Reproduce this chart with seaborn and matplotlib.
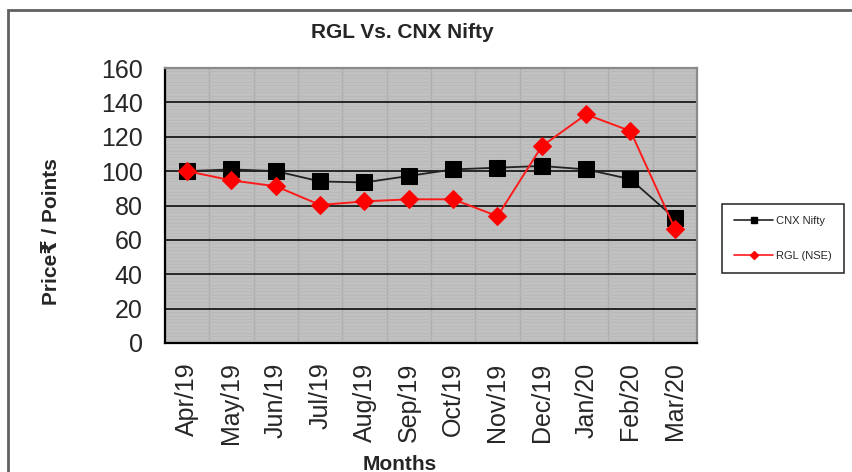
import numpy as np
import pandas as pd
import matplotlib
matplotlib.use("Agg")
import matplotlib.pyplot as plt
from matplotlib.ticker import MultipleLocator, FixedLocator
from matplotlib.patches import Rectangle
from matplotlib.lines import Line2D
import seaborn as sns

months = ["Apr/19", "May/19", "Jun/19", "Jul/19", "Aug/19", "Sep/19",
          "Oct/19", "Nov/19", "Dec/19", "Jan/20", "Feb/20", "Mar/20"]
cnx_nifty = [100, 101, 100, 94, 93.4, 97.2, 101, 102, 103, 101, 95.3, 72.5]
rgl_nse = [100, 94.6, 91.2, 80.3, 82.4, 83.6, 83.6, 73.8, 114.5, 133, 123.3, 66.6]
yticks = [0, 20, 40, 60, 80, 100, 120, 140, 160]
series_names = ["CNX Nifty", "RGL (NSE)"]

sns.set_style("white")
plt.rcParams["font.family"] = ["Liberation Sans", "DejaVu Sans"]

pos = np.arange(len(months))
df = pd.DataFrame({
    "pos": np.concatenate([pos, pos]),
    "value": cnx_nifty + rgl_nse,
    "series": [series_names[0]] * len(months) + [series_names[1]] * len(months),
})

fig = plt.figure(figsize=(8.53, 4.72), dpi=100)
ax = fig.add_axes([165 / 853, 1 - 343 / 472, (697 - 165) / 853, (343 - 68) / 472])
ax.set_facecolor("#c0c0c0")

# grid structure
ax.set_xlim(-0.5, len(months) - 0.5)
ax.set_ylim(yticks[0], yticks[-1])
ax.set_yticks(yticks)
ax.yaxis.set_minor_locator(MultipleLocator(2))
ax.grid(which="minor", axis="y", color="#b9b9b9", lw=0.7, zorder=0)
ax.xaxis.set_minor_locator(FixedLocator(np.arange(-0.5, len(months), 1.0)))
ax.grid(which="minor", axis="x", color="#acacac", lw=1.0, zorder=0)
ax.set_axisbelow(True)
for yv in yticks[1:-1]:
    ax.axhline(yv, color="#1a1a1a", lw=1.3, zorder=1)

sns.lineplot(data=df, x="pos", y="value", hue="series", style="series",
             palette={"CNX Nifty": "#111111", "RGL (NSE)": "#ff1a1a"},
             markers={"CNX Nifty": "s", "RGL (NSE)": "D"},
             dashes=False, ax=ax, legend=False, zorder=3)
line_objs = [l for l in ax.get_lines() if len(l.get_xdata()) == len(months)]
for ln in line_objs:
    if ln.get_marker() == "s":
        ln.set_markersize(11)
        ln.set_linewidth(1.3)
        ln.set_color("#222222")
        ln.set_markerfacecolor("black")
        ln.set_markeredgecolor("black")
    else:
        ln.set_markersize(9.5)
        ln.set_linewidth(1.4)
        ln.set_markerfacecolor("#ff0000")
        ln.set_markeredgecolor("#ff0000")
        ln.set_zorder(4)

ax.set_xticks(pos)
ax.set_xticklabels(months, rotation=90, fontsize=18)
ax.tick_params(axis="x", which="major", length=0, pad=14)
ax.tick_params(axis="x", which="minor", length=8, width=1.5, color="black", direction="out")
ax.tick_params(axis="y", which="major", length=8, width=1.5, color="black", direction="out",
               labelsize=18, pad=8)
ax.tick_params(axis="y", which="minor", length=0)
ax.set_xlabel("")
ax.set_ylabel("")

for s in ["left", "bottom"]:
    ax.spines[s].set_color("black")
    ax.spines[s].set_linewidth(1.6)
for s in ["top", "right"]:
    ax.spines[s].set_color("#8a8a8a")
    ax.spines[s].set_linewidth(1.6)

# legend
handles = [
    Line2D([], [], color="#222222", lw=1.2, marker="s", ms=5, mfc="black", mec="black"),
    Line2D([], [], color="#ff1a1a", lw=1.2, marker="D", ms=4, mfc="#ff0000", mec="#ff0000"),
]
leg = fig.legend(handles, series_names, loc="upper left",
                 bbox_to_anchor=(722 / 853, 1 - 204 / 472), fontsize=8,
                 frameon=True, fancybox=False, edgecolor="black",
                 handlelength=3.5, labelspacing=2.2, borderpad=1.1,
                 handletextpad=0.3, borderaxespad=0)
leg.get_frame().set_linewidth(1.2)

# texts
fig.text(402 / 853, 1 - 32 / 472, "RGL Vs. CNX Nifty", ha="center", va="center",
         fontsize=15, fontweight="bold")
fig.text(400 / 853, 1 - 464 / 472, "Months", ha="center", va="center",
         fontsize=15, fontweight="bold")
fig.text(52 / 853, 1 - 232 / 472, "Price₹ / Points", ha="center", va="center",
         rotation=90, fontsize=15, fontweight="bold")

# outer chart frame
fig.add_artist(Rectangle((8 / 853, -0.5), 2.0, (1 - 10 / 472) + 0.5,
                         transform=fig.transFigure, fill=False,
                         edgecolor="#606060", linewidth=2.0))

fig.savefig("out.png", dpi=100)
